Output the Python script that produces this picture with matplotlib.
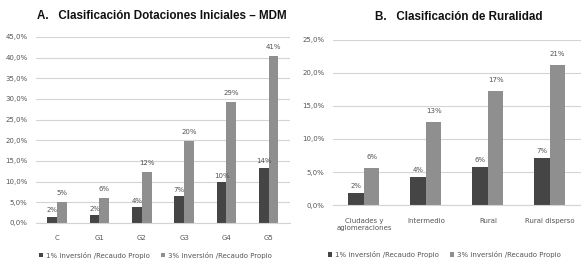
import matplotlib
matplotlib.use("Agg")
import matplotlib.pyplot as plt
import numpy as np
from matplotlib.ticker import FuncFormatter

# Data
cats_a = ["C", "G1", "G2", "G3", "G4", "G5"]
dark_a = [1.5, 1.9, 3.9, 6.5, 9.8, 13.4]
light_a = [5.1, 6.1, 12.3, 19.9, 29.3, 40.4]
labels_dark_a = ["2%", "2%", "4%", "7%", "10%", "14%"]
labels_light_a = ["5%", "6%", "12%", "20%", "29%", "41%"]

cats_b = ["Ciudades y\naglomeraciones", "Intermedio", "Rural", "Rural disperso"]
dark_b = [1.8, 4.2, 5.8, 7.1]
light_b = [5.6, 12.6, 17.3, 21.2]
labels_dark_b = ["2%", "4%", "6%", "7%"]
labels_light_b = ["6%", "13%", "17%", "21%"]

series_names = ["1% inversión /Recaudo Propio", "3% inversión /Recaudo Propio"]

DARK = "#454545"
LIGHT = "#8f8f8f"
TXT = "#555555"
GRID = "#d4d4d4"

plt.rcParams['font.family'] = ['DejaVu Sans']

fig = plt.figure(figsize=(5.81, 2.68), dpi=100)
fmt = FuncFormatter(lambda v, p: f"{v:.1f}%".replace(".", ","))


def style(ax, ymax, step):
    ax.set_ylim(0, ymax)
    ax.set_yticks(np.arange(0, ymax + 0.01, step))
    ax.yaxis.set_major_formatter(fmt)
    ax.grid(axis='y', color=GRID, linewidth=0.8)
    ax.set_axisbelow(True)
    for s in ["top", "right", "left"]:
        ax.spines[s].set_visible(False)
    ax.spines["bottom"].set_color(GRID)
    ax.tick_params(axis='both', length=0, labelsize=5, colors=TXT)
    ax.tick_params(axis='y', pad=6)
    ax.tick_params(axis='x', pad=9)


# Panel A
axA = fig.add_axes([0.062, 0.168, 0.437, 0.694])
x = np.arange(len(cats_a))
w = 0.23
axA.bar(x - w / 2, dark_a, w, color=DARK, label=series_names[0])
axA.bar(x + w / 2, light_a, w, color=LIGHT, label=series_names[1])
axA.set_xlim(-0.5, len(cats_a) - 0.5)
axA.set_xticks(x)
axA.set_xticklabels(cats_a)
style(axA, 45, 5)
for xi, v, t in zip(x, dark_a, labels_dark_a):
    axA.text(xi - w / 2, v + 0.8, t, ha='center', va='bottom', fontsize=5, color=TXT)
for xi, v, t in zip(x, light_a, labels_light_a):
    axA.text(xi + w / 2, v + 1.5, t, ha='center', va='bottom', fontsize=5, color=TXT)
axA.legend(loc='upper center', bbox_to_anchor=(0.47, -0.12), ncol=2, frameon=False,
           fontsize=5, labelcolor=TXT, handlelength=0.6, handleheight=0.6,
           handletextpad=0.4, columnspacing=1.6)
fig.text(0.278, 0.94, "A.   Clasificación Dotaciones Iniciales – MDM", ha='center', va='center',
         fontsize=8.4, fontweight='bold', family='Liberation Sans', color='#111111')

# Panel B
axB = fig.add_axes([0.573, 0.235, 0.427, 0.616])
xb = np.arange(len(cats_b))
wb = 0.25
axB.bar(xb - wb / 2, dark_b, wb, color=DARK, label=series_names[0])
axB.bar(xb + wb / 2, light_b, wb, color=LIGHT, label=series_names[1])
axB.set_xlim(-0.5, len(cats_b) - 0.5)
axB.set_xticks(xb)
axB.set_xticklabels(cats_b)
style(axB, 25, 5)
for xi, v, t in zip(xb, dark_b, labels_dark_b):
    axB.text(xi - wb / 2, v + 0.6, t, ha='center', va='bottom', fontsize=5, color=TXT)
for xi, v, t in zip(xb, light_b, labels_light_b):
    axB.text(xi + wb / 2, v + 1.2, t, ha='center', va='bottom', fontsize=5, color=TXT)
axB.legend(loc='upper center', bbox_to_anchor=(0.45, -0.24), ncol=2, frameon=False,
           fontsize=5, labelcolor=TXT, handlelength=0.6, handleheight=0.6,
           handletextpad=0.4, columnspacing=1.6)
fig.text(0.79, 0.935, "B.   Clasificación de Ruralidad", ha='center', va='center',
         fontsize=8.4, fontweight='bold', family='Liberation Sans', color='#111111')

fig.savefig("out.png", dpi=100, facecolor='white')
